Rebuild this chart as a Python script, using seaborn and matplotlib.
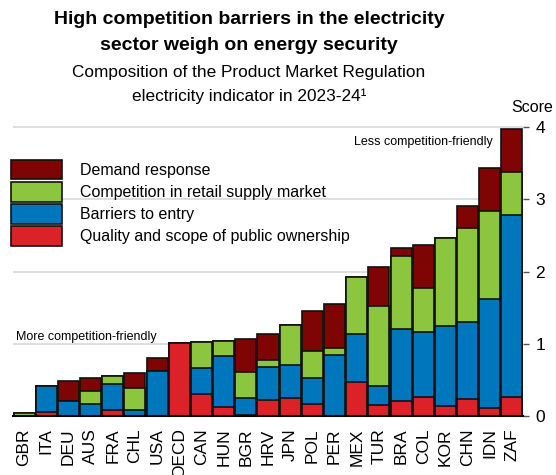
import matplotlib
matplotlib.use("Agg")
import matplotlib.pyplot as plt
import matplotlib.patches as mpatches
import numpy as np
import pandas as pd
import seaborn as sns

# Product Market Regulation electricity indicator, 2023-24, by component
countries = ["GBR", "ITA", "DEU", "AUS", "FRA", "CHL", "USA", "OECD", "CAN", "HUN",
             "BGR", "HRV", "JPN", "POL", "PER", "MEX", "TUR", "BRA", "COL", "KOR",
             "CHN", "IDN", "ZAF"]
public_ownership = [0.00, 0.05, 0.00, 0.00, 0.08, 0.00, 0.00, 1.01, 0.30, 0.13,
                    0.02, 0.22, 0.25, 0.16, 0.00, 0.47, 0.15, 0.21, 0.26, 0.14,
                    0.24, 0.11, 0.27]
barriers_entry = [0.00, 0.36, 0.21, 0.17, 0.37, 0.09, 0.63, 0.00, 0.36, 0.70,
                  0.23, 0.46, 0.46, 0.37, 0.84, 0.67, 0.27, 1.00, 0.90, 1.11,
                  1.06, 1.51, 2.51]
retail_competition = [0.04, 0.00, 0.00, 0.18, 0.10, 0.30, 0.00, 0.00, 0.37, 0.21,
                      0.36, 0.09, 0.55, 0.37, 0.10, 0.79, 1.10, 1.01, 0.61, 1.22,
                      1.30, 1.22, 0.60]
demand_response = [0.00, 0.00, 0.28, 0.18, 0.00, 0.20, 0.18, 0.00, 0.00, 0.00,
                   0.46, 0.37, 0.00, 0.55, 0.61, 0.00, 0.55, 0.10, 0.60, 0.00,
                   0.31, 0.59, 0.60]
component_labels = ["Demand response", "Competition in retail supply market",
                    "Barriers to entry", "Quality and scope of public ownership"]
y_ticks = [0, 1, 2, 3, 4]

colors = {
    "Demand response": "#7f0505",
    "Competition in retail supply market": "#8cc63f",
    "Barriers to entry": "#0077bd",
    "Quality and scope of public ownership": "#dc2229",
}

df = pd.DataFrame({
    "country": countries,
    "Quality and scope of public ownership": public_ownership,
    "Barriers to entry": barriers_entry,
    "Competition in retail supply market": retail_competition,
    "Demand response": demand_response,
})

sns.set_theme(style="white")
plt.rcParams["font.family"] = ["Liberation Sans", "DejaVu Sans"]
plt.rcParams["text.color"] = "black"
plt.rcParams["xtick.color"] = "black"
plt.rcParams["ytick.color"] = "black"
plt.rcParams["axes.labelcolor"] = "black"

fig = plt.figure(figsize=(5.56, 4.75), dpi=100)
ax = fig.add_axes([13 / 556, 1 - 416 / 475, (523 - 13) / 556, 291 / 475])

# Stacked bars: overlay cumulative totals, tallest first
stack_order = ["Quality and scope of public ownership", "Barriers to entry",
               "Competition in retail supply market", "Demand response"]
cum = df[stack_order].cumsum(axis=1)
for comp in reversed(stack_order):
    sns.barplot(x=df["country"], y=cum[comp], order=countries, color=colors[comp],
                saturation=1, width=0.95, edgecolor="#111111", linewidth=1.2,
                ax=ax, zorder=2)

ax.set_ylim(0, 4.03)
ax.set_xlim(-0.5, len(countries) - 0.5)
ax.set_yticks(y_ticks)
ax.yaxis.tick_right()
ax.yaxis.grid(True, color="#dcdcdc", linewidth=1.3)
ax.set_axisbelow(True)
ax.tick_params(axis="y", right=True, length=4, width=1, color="#555555",
               labelsize=12.5, pad=5, labelcolor="black")
ax.tick_params(axis="x", bottom=False, labelsize=12.5, pad=3, labelrotation=90,
               labelcolor="black")
ax.set_xlabel("")
ax.set_ylabel("")
for side in ["top", "left", "right"]:
    ax.spines[side].set_visible(False)
ax.spines["bottom"].set_color("black")
ax.spines["bottom"].set_linewidth(1.5)

ax.text(-0.38, 1.09, "More competition-friendly", fontsize=9, va="center", ha="left")
ax.text(18.0, 3.79, "Less competition-friendly", fontsize=9, va="center", ha="center")

handles = [mpatches.Patch(facecolor=colors[c], edgecolor="#111111", linewidth=1.2)
           for c in component_labels]
leg = ax.legend(handles, component_labels, loc="upper left",
                bbox_to_anchor=(11 / 556, 1 - 160 / 475), bbox_transform=fig.transFigure,
                frameon=False, fontsize=11.5, handlelength=3.2, handleheight=1.5,
                labelspacing=0.16, handletextpad=1.1, borderpad=0, borderaxespad=0,
                labelcolor="black")

fig.text(249 / 556, 1 - 20 / 475, "High competition barriers in the electricity",
         fontsize=14, fontweight="bold", ha="center", va="center")
fig.text(249 / 556, 1 - 45 / 475, "sector weigh on energy security",
         fontsize=14, fontweight="bold", ha="center", va="center")
fig.text(249 / 556, 1 - 72 / 475, "Composition of the Product Market Regulation",
         fontsize=12.4, ha="center", va="center")
fig.text(249 / 556, 1 - 96 / 475, "electricity indicator in 2023-24\u00b9",
         fontsize=12.4, ha="center", va="center")
fig.text(532 / 556, 1 - 108 / 475, "Score", fontsize=11.5, ha="center", va="center")

fig.savefig("out.png", dpi=100)
